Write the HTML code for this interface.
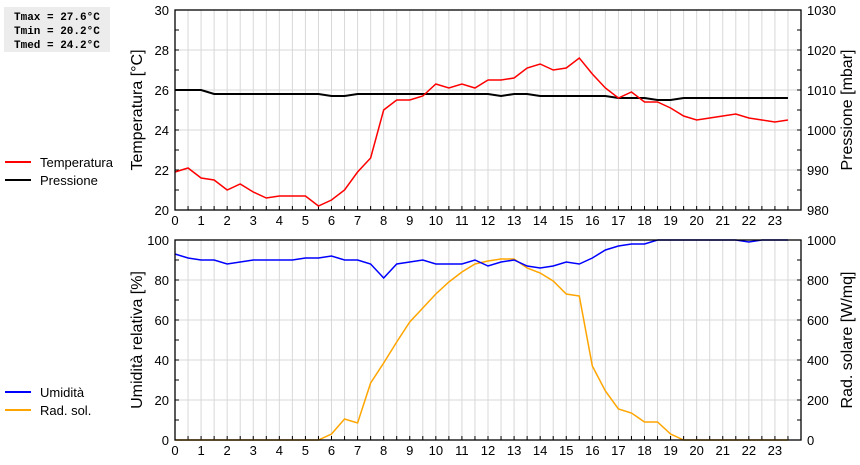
<!DOCTYPE html>
<html><head><meta charset="utf-8"><style>
body{margin:0;background:#fff;width:860px;height:460px;overflow:hidden;font-family:"Liberation Sans",sans-serif}
</style></head><body>
<svg id="c" width="860" height="460" xmlns="http://www.w3.org/2000/svg" font-family="Liberation Sans, sans-serif">
<rect x="4" y="7" width="106" height="45" fill="#ececec"/>
<g font-family="Liberation Mono, monospace" font-weight="bold" font-size="11" fill="#000">
<text x="14" y="20">Tmax = 27.6°C</text>
<text x="14" y="34">Tmin = 20.2°C</text>
<text x="14" y="48">Tmed = 24.2°C</text>
</g>
<g font-size="13">
<line x1="5" y1="162" x2="31" y2="162" stroke="#f00" stroke-width="2"/><text x="40" y="167">Temperatura</text>
<line x1="5" y1="180" x2="31" y2="180" stroke="#000" stroke-width="2"/><text x="40" y="185">Pressione</text>
</g>
<g font-size="13">
<line x1="5" y1="392" x2="31" y2="392" stroke="#00f" stroke-width="2"/><text x="40" y="397">Umidità</text>
<line x1="5" y1="410" x2="31" y2="410" stroke="#ffa500" stroke-width="2"/><text x="40" y="415">Rad. sol.</text>
</g>
<g id="g"></g>
</svg>
<script>
const hours=[0,0.5,1,1.5,2,2.5,3,3.5,4,4.5,5,5.5,6,6.5,7,7.5,8,8.5,9,9.5,10,10.5,11,11.5,12,12.5,13,13.5,14,14.5,15,15.5,16,16.5,17,17.5,18,18.5,19,19.5,20,20.5,21,21.5,22,22.5,23,23.5];
const temperature=[21.9,22.1,21.6,21.5,21.0,21.3,20.9,20.6,20.7,20.7,20.7,20.2,20.5,21.0,21.9,22.6,25.0,25.5,25.5,25.7,26.3,26.1,26.3,26.1,26.5,26.5,26.6,27.1,27.3,27.0,27.1,27.6,26.8,26.1,25.6,25.9,25.4,25.4,25.1,24.7,24.5,24.6,24.7,24.8,24.6,24.5,24.4,24.5];
const pressure=[1010,1010,1010,1009,1009,1009,1009,1009,1009,1009,1009,1009,1008.5,1008.5,1009,1009,1009,1009,1009,1009,1009,1009,1009,1009,1009,1008.5,1009,1009,1008.5,1008.5,1008.5,1008.5,1008.5,1008.5,1008,1008,1008,1007.5,1007.5,1008,1008,1008,1008,1008,1008,1008,1008,1008];
const humidity=[93,91,90,90,88,89,90,90,90,90,91,91,92,90,90,88,81,88,89,90,88,88,88,90,87,89,90,87,86,87,89,88,91,95,97,98,98,100,100,100,100,100,100,100,99,100,100,100];
const radiation=[0,0,0,0,0,0,0,0,0,0,0,0,30,105,85,285,385,490,590,660,730,790,840,880,895,905,905,860,835,795,730,720,370,245,155,135,90,90,30,0,0,0,0,0,0,0,0,0];
const tempTicks=[20,22,24,26,28,30];
const pressTicks=[980,990,1000,1010,1020,1030];
const humTicks=[0,20,40,60,80,100];
const radTicks=[0,200,400,600,800,1000];

const NS="http://www.w3.org/2000/svg";
const G=document.getElementById('g');
function el(t,a,p){const e=document.createElementNS(NS,t);for(const k in a)e.setAttribute(k,a[k]);(p||G).appendChild(e);return e;}
const X0=175,X1=801;
const xs=h=>X0+h*(X1-X0)/24;
function panel(top,bot,lmin,lmax,rmin,rmax,lt,rt,ltitle,rtitle,series,pname){
  const yl=v=>bot-(v-lmin)/(lmax-lmin)*(bot-top);
  const yr=v=>bot-(v-rmin)/(rmax-rmin)*(bot-top);
  const g=el('g',{});
  
  
  for(let h=0.5;h<24;h+=0.5){const l=el('line',{x1:xs(h),x2:xs(h),y1:top,y2:bot,stroke:'#d8d8d8'},g);
    }
  lt.forEach(v=>{if(v>lmin&&v<lmax){const l=el('line',{x1:X0,x2:X1,y1:yl(v),y2:yl(v),stroke:'#d8d8d8'},g);
    }});
  // minor ticks
  const step=(lt[1]-lt[0])/2;
  for(let v=lmin;v<=lmax+1e-9;v+=step){el('line',{x1:X0,x2:X0+4,y1:yl(v),y2:yl(v),stroke:'#000'},g);el('line',{x1:X1-4,x2:X1,y1:yl(v),y2:yl(v),stroke:'#000'},g);}
  for(let h=0;h<24;h+=0.5){el('line',{x1:xs(h),x2:xs(h),y1:bot,y2:bot-4,stroke:'#000'},g);}
  for(let h=0;h<24;h++){const t=el('text',{x:xs(h),y:bot+15,'text-anchor':'middle','font-size':13},g);t.textContent=h;
    }
  lt.forEach(v=>{const t=el('text',{x:X0-6,y:yl(v)+5,'text-anchor':'end','font-size':13},g);t.textContent=v;
    });
  rt.forEach(v=>{const t=el('text',{x:X1+6,y:yr(v)+5,'font-size':13},g);t.textContent=v;
    });
  const cy=(top+bot)/2;
  const a=el('text',{x:0,y:0,'text-anchor':'middle','font-size':16,transform:`translate(142,${cy}) rotate(-90)`},g);a.textContent=ltitle;
  
  const b=el('text',{x:0,y:0,'text-anchor':'middle','font-size':16,transform:`translate(852,${cy}) rotate(-90)`},g);b.textContent=rtitle;
  
  series.forEach(s=>{const f=s.right?yr:yl;
    const p=el('polyline',{points:hours.map((h,i)=>xs(h)+','+f(s.v[i])).join(' '),fill:'none',stroke:s.c,'stroke-width':s.w},g);
    });
  const r=el('rect',{x:X0,y:top,width:X1-X0,height:bot-top,fill:'none',stroke:'#000','stroke-width':1.3},g);
  
}
panel(10,210,20,30,980,1030,tempTicks,pressTicks,'Temperatura [°C]','Pressione [mbar]',
 [{v:pressure,right:true,c:'#000',w:2,n:'pressure-line'},{v:temperature,c:'#f00',w:1.5,n:'temperature-line'}],'top-panel');
panel(240,440,0,100,0,1000,humTicks,radTicks,'Umidità relativa [%]','Rad. solare [W/mq]',
 [{v:radiation,right:true,c:'#ffa500',w:1.5,n:'radiation-line'},{v:humidity,c:'#00f',w:1.5,n:'humidity-line'}],'bottom-panel');
</script>
</body></html>
